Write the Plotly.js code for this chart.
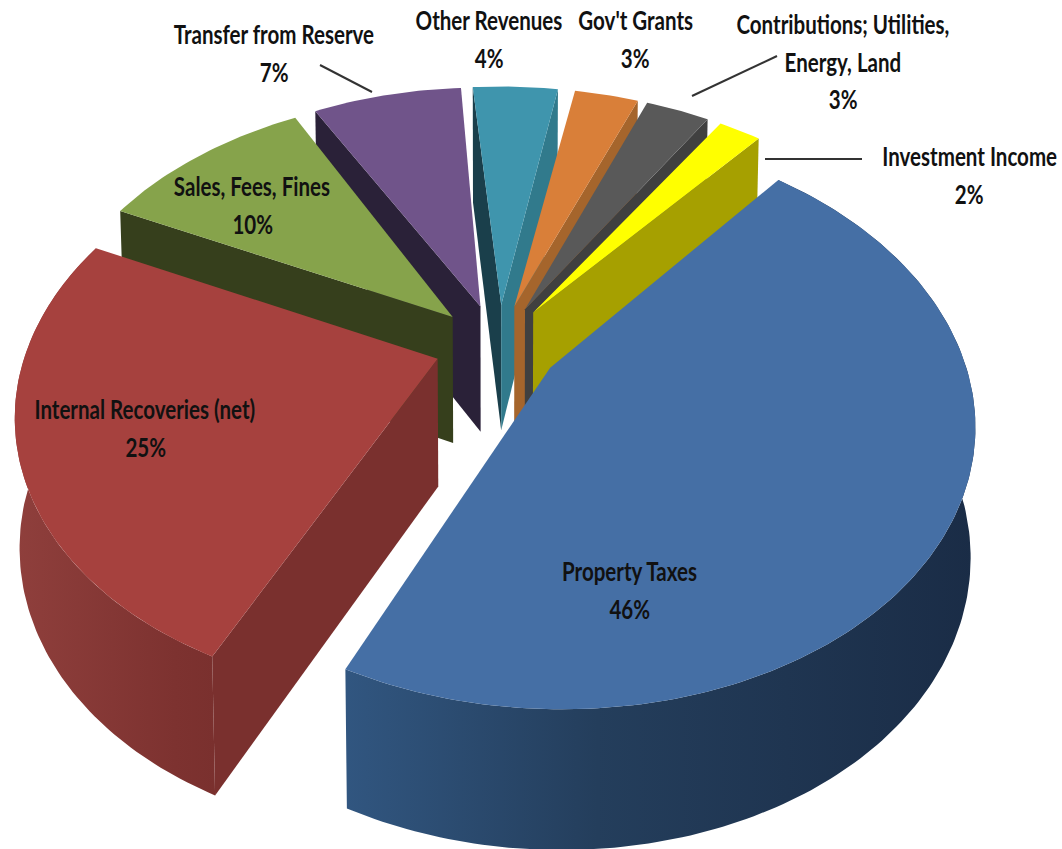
<!DOCTYPE html>
<html>
<head>
<meta charset="utf-8">
<script src="https://cdn.plot.ly/plotly-3.0.1.min.js"></script>
<style>html,body{margin:0;padding:0;background:#fff}#chart{width:1062px;height:849px}</style>
</head>
<body>
<div id="chart"></div>
<script>
// Revenue sources, in percent, clockwise from the first slice
const categories = ["Property Taxes", "Internal Recoveries (net)", "Sales, Fees, Fines", "Transfer from Reserve",
                    "Other Revenues", "Gov't Grants", "Contributions; Utilities, Energy, Land", "Investment Income"];
const shares = [46, 25, 10, 7, 4, 3, 3, 2];

// Label text, one entry per line above the percentage
const labelLines = [["Property Taxes"], ["Internal Recoveries (net)"], ["Sales, Fees, Fines"], ["Transfer from Reserve"],
                    ["Other Revenues"], ["Gov't Grants"], ["Contributions; Utilities,", "Energy, Land"], ["Investment Income"]];
const labelX = [629, 145, 252, 274, 489, 635, 843, 969];
const labelTop = [571, 409, 186, 34, 20, 20, 24, 156];

// Slice colours: top face, left cut face, right cut face, rim gradient stops
const topColors = ["#456fa5", "#a6413e", "#86a34b", "#70548a", "#3f95ad", "#d97f39", "#595959", "#ffff00"];
const startWallColors = ["#1f3552", "#7a302e", "#363f1c", "#2a2138", "#1a3f4b", "#a5652c", "#404040", "#a6a000"];
const endWallColors = ["#1f3552", "#7a302e", "#363f1c", "#2a2138", "#317a8c", "#a5652c", "#404040", "#a6a000"];
const rimStops = [
  [[0, "#315680"], [0.4, "#243e5c"], [1, "#1a2c46"]],
  [[0, "#8f3f3c"], [0.8, "#7d3230"], [1, "#7a302e"]],
  null, null, null, null, null, null
];

// Pie geometry: ground plane projected with a simple perspective
const startAngle = 40, explode = 0.152;
const cx = 497, cy = 345, radiusX = 410, radiusY = 271, persp = 0.18;
const depth = 127, depthPersp = 0.09, taper = 0.99;
const drawOrder = [3, 4, 5, 6, 7, 2, 1, 0];
// Small turn applied to whole narrow slices, in degrees
const sliceTurn = [0, 0, 0.4, -0.5, -1.5, -0.5, -0.5, 0.5];
const labelSqueeze = 0.79;

const rad = d => d * Math.PI / 180;
function project(u, v) {
  const w = 1 + persp * v;
  return [cx + radiusX * u / w, cy - radiusY * v / w];
}
function lower(u, v) {
  const [x, y] = project(u, v);
  return [cx + (x - cx) * taper, y + depth / (1 + depthPersp * v)];
}
const xs = p => p.map(q => q[0]);
const ys = p => p.map(q => q[1]);
function area(p) {
  let s = 0;
  p.forEach((q, i) => { const r = p[(i + 1) % p.length]; s += q[0] * r[1] - r[0] * q[1]; });
  return s / 2;
}
function poly(points, color, stops) {
  const t = {type: "scatter", mode: "lines", x: xs(points).concat(points[0][0]), y: ys(points).concat(points[0][1]),
             fill: "toself", line: {width: 0, color: color}, hoverinfo: "skip", showlegend: false};
  if (stops) { t.fillgradient = {type: "horizontal", colorscale: stops}; } else { t.fillcolor = color; }
  return t;
}

// Cumulative angles of each slice boundary
const total = shares.reduce((a, b) => a + b, 0);
let run = startAngle;
const spans = shares.map(v => { const a = run; run += v / total * 360; return [a, run]; });

const slices = spans.map(([a0, a1], i) => {
  const mid = rad((a0 + a1) / 2);
  const ou = explode * Math.sin(mid), ov = explode * Math.cos(mid);
  const b0 = a0 + sliceTurn[i], b1 = a1 + sliceTurn[i];
  const rim = [];
  for (let a = b0; a < b1; a += 1) rim.push([ou + Math.sin(rad(a)), ov + Math.cos(rad(a))]);
  rim.push([ou + Math.sin(rad(b1)), ov + Math.cos(rad(b1))]);
  return {i, apex: [ou, ov], rim};
});

const traces = [];
drawOrder.forEach(i => {
  const s = slices[i];
  const rimTop = s.rim.map(g => project(g[0], g[1]));
  const rimLow = s.rim.map(g => lower(g[0], g[1]));
  // Outer rim wall
  if (rimStops[i]) traces.push(poly(rimTop.concat(rimLow.slice().reverse()), startWallColors[i], rimStops[i]));
  // Cut faces, only those turned towards the viewer
  const A = project(s.apex[0], s.apex[1]), B = lower(s.apex[0], s.apex[1]);
  const first = s.rim[0], last = s.rim[s.rim.length - 1];
  const faceStart = [A, B, lower(first[0], first[1]), project(first[0], first[1])];
  const faceEnd = [project(last[0], last[1]), lower(last[0], last[1]), B, A];
  if (area(faceStart) > 0) traces.push(poly(faceStart, startWallColors[i]));
  if (area(faceEnd) > 0) traces.push(poly(faceEnd, endWallColors[i]));
  // Top face
  traces.push(poly([A].concat(rimTop), topColors[i]));
});

// Leader lines for the labels outside the pie
const leaders = [
  {x: [320, 372], y: [65, 92]},
  {x: [777, 692], y: [56, 96]},
  {x: [765, 862], y: [159, 159]}
];
leaders.forEach(l => traces.push({type: "scatter", mode: "lines", x: l.x, y: l.y,
  line: {color: "#333333", width: 2}, hoverinfo: "skip", showlegend: false}));

// Labels: name lines, then the share as a percentage
const lineGap = 37.5;
const annotations = [];
const textStyle = {family: 'Lato, "Liberation Sans", sans-serif', size: 26, color: "#111111"};
categories.forEach((c, i) => {
  const lines = labelLines[i].map(t => "<b>" + t + "</b>").concat("<b>" + shares[i] + "%</b>");
  lines.forEach((t, j) => annotations.push({
    x: labelX[i], y: labelTop[i] + j * lineGap, xref: "x", yref: "y", text: t, showarrow: false,
    xanchor: "center", yanchor: "middle", font: textStyle
  }));
});

const layout = {
  width: 1062, height: 849, margin: {l: 0, r: 0, t: 0, b: 0},
  paper_bgcolor: "#ffffff", plot_bgcolor: "#ffffff", showlegend: false,
  xaxis: {range: [0, 1062], visible: false, fixedrange: true},
  yaxis: {range: [849, 0], visible: false, fixedrange: true},
  annotations
};
Plotly.newPlot("chart", traces, layout, {displayModeBar: false, staticPlot: true}).then(gd => {
  // Condense the label type horizontally about each label's centre
  gd.querySelectorAll("text.annotation-text").forEach(el => {
    const box = el.getBBox();
    const c = box.x + box.width / 2;
    el.setAttribute("transform", `translate(${c} 0) scale(${labelSqueeze} 1) translate(${-c} 0)`);
  });
});
</script>
</body>
</html>
